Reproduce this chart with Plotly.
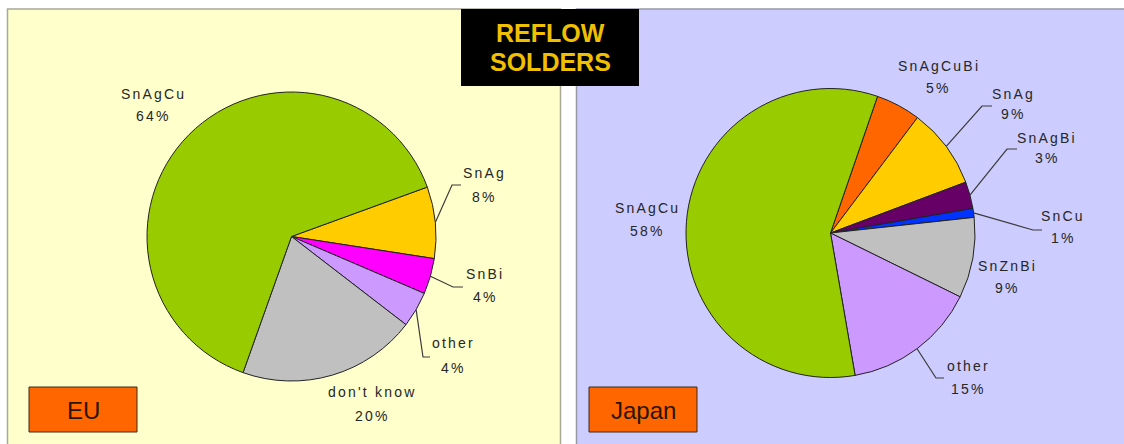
import math
import plotly.graph_objects as go

W, H = 1124, 444

# EU reflow solder usage (%)
eu_labels = ["SnAg", "SnBi", "other", "don't know", "SnAgCu"]
eu_values = [8, 4, 4, 20, 64]
eu_colors = ["#FFCC00", "#FF00FF", "#CC99FF", "#C0C0C0", "#99CC00"]

# Japan reflow solder usage (%)
jp_labels = ["SnAgCuBi", "SnAg", "SnAgBi", "SnCu", "SnZnBi", "other", "SnAgCu"]
jp_values = [5, 9, 3, 1, 9, 15, 58]
jp_colors = ["#FF6600", "#FFCC00", "#660066", "#0033FF", "#C0C0C0", "#CC99FF", "#99CC00"]

TEXT = "#262626"
FONT = "Liberation Sans, Arial, sans-serif"


def px(x):
    return x / W


def py(y):
    return 1 - y / H


def spaced(s):
    return f'<span style="letter-spacing:2.2px">{s}</span>'


# pie geometry in pixels: centre and radius
EU_GEO = dict(cx=291.5, cy=236.5, r=144.5, rot=70)
JP_GEO = dict(cx=830.5, cy=233.0, r=144.5, rot=19)


def domain(g):
    return dict(x=[px(g["cx"] - g["r"]), px(g["cx"] + g["r"])],
                y=[py(g["cy"] + g["r"]), py(g["cy"] - g["r"])])


def mid_points(values, g):
    """Edge point (pixels) at the middle angle of each clockwise slice."""
    total = sum(values)
    pts, cum = [], 0
    for v in values:
        a = math.radians(g["rot"] + 360 * (cum + v / 2) / total)
        pts.append((g["cx"] + g["r"] * math.sin(a), g["cy"] - g["r"] * math.cos(a)))
        cum += v
    return pts


fig = go.Figure()
for labels, values, colors, g in [(eu_labels, eu_values, eu_colors, EU_GEO),
                                   (jp_labels, jp_values, jp_colors, JP_GEO)]:
    fig.add_trace(go.Pie(
        labels=labels, values=values, sort=False, direction="clockwise",
        rotation=g["rot"], textinfo="none", hoverinfo="label+percent",
        marker=dict(colors=colors, line=dict(color="#222222", width=1)),
        domain=domain(g), showlegend=False,
    ))

shapes = [
    # panel backgrounds
    dict(type="rect", xref="paper", yref="paper", x0=px(7.5), x1=px(560.5), y0=py(446), y1=py(9),
         fillcolor="#FFFFCC", line=dict(color="#a8a898", width=1.5), layer="below"),
    dict(type="rect", xref="paper", yref="paper", x0=px(576.5), x1=px(1130), y0=py(446), y1=py(9),
         fillcolor="#CCCCFF", line=dict(color="#9898a8", width=1.5), layer="below"),
    # title block
    dict(type="rect", xref="paper", yref="paper", x0=px(461), x1=px(639), y0=py(86), y1=py(9),
         fillcolor="#000000", line=dict(width=0), layer="above"),
    # region tags
    dict(type="rect", xref="paper", yref="paper", x0=px(29), x1=px(137), y0=py(432), y1=py(387),
         fillcolor="#FF6600", line=dict(color="#3a2a1a", width=1), layer="above"),
    dict(type="rect", xref="paper", yref="paper", x0=px(589), x1=px(697), y0=py(432), y1=py(387),
         fillcolor="#FF6600", line=dict(color="#3a2a1a", width=1), layer="above"),
]

annotations = [
    dict(text="<b>REFLOW</b>", x=px(550), y=py(33), font=dict(size=25, color="#F0C000", family=FONT)),
    dict(text="<b>SOLDERS</b>", x=px(550), y=py(62), font=dict(size=25, color="#F0C000", family=FONT)),
    dict(text="EU", x=px(83), y=py(410), font=dict(size=24, color="#2a1500", family=FONT)),
    dict(text="Japan", x=px(643), y=py(410), font=dict(size=24, color="#2a1500", family=FONT)),
]

# label placement: name centre (x, y), percent centre y, leader elbow and end (or None)
eu_place = {
    "SnAg": ((484, 173), 197, ((452, 185), (461, 185))),
    "SnBi": ((485, 274), 297, ((453, 287), (463, 287))),
    "other": ((453, 343), 368, ((423, 357), (430, 357))),
    "don't know": ((372, 392), 416, None),
    "SnAgCu": ((153, 94), 116, None),
}
jp_place = {
    "SnAgCuBi": ((939, 66), 88, None),
    "SnAg": ((1013, 94), 114, ((982, 106), (992, 106))),
    "SnAgBi": ((1047, 138), 158, ((1007, 149), (1017, 149))),
    "SnCu": ((1063, 216), 238, ((1033, 230), (1042, 230))),
    "SnZnBi": ((1007, 266), 288, None),
    "other": ((968, 366), 389, ((936, 378), (944, 378))),
    "SnAgCu": ((647, 208), 231, None),
}

for labels, values, g, place in [(eu_labels, eu_values, EU_GEO, eu_place),
                                  (jp_labels, jp_values, JP_GEO, jp_place)]:
    edge = mid_points(values, g)
    for lab, v, p in zip(labels, values, edge):
        (nx, ny), pcy, leader = place[lab]
        annotations.append(dict(text=spaced(lab), x=px(nx), y=py(ny),
                                font=dict(size=14, color=TEXT, family=FONT)))
        annotations.append(dict(text=spaced(f"{v}%"), x=px(nx), y=py(pcy),
                                font=dict(size=14, color=TEXT, family=FONT)))
        if leader:
            (ex, ey), (hx, hy) = leader
            path = (f"M {px(p[0])},{py(p[1])} L {px(ex)},{py(ey)} L {px(hx)},{py(hy)}")
            shapes.append(dict(type="path", xref="paper", yref="paper", path=path,
                               line=dict(color="#3a3a3a", width=1.2), layer="above"))

for a in annotations:
    a.update(xref="paper", yref="paper", showarrow=False, xanchor="center", yanchor="middle")

fig.update_layout(
    width=W, height=H, margin=dict(l=0, r=0, t=0, b=0),
    paper_bgcolor="#FFFFFF", plot_bgcolor="#FFFFFF",
    shapes=shapes, annotations=annotations, showlegend=False,
)

fig.write_html("out.html")
